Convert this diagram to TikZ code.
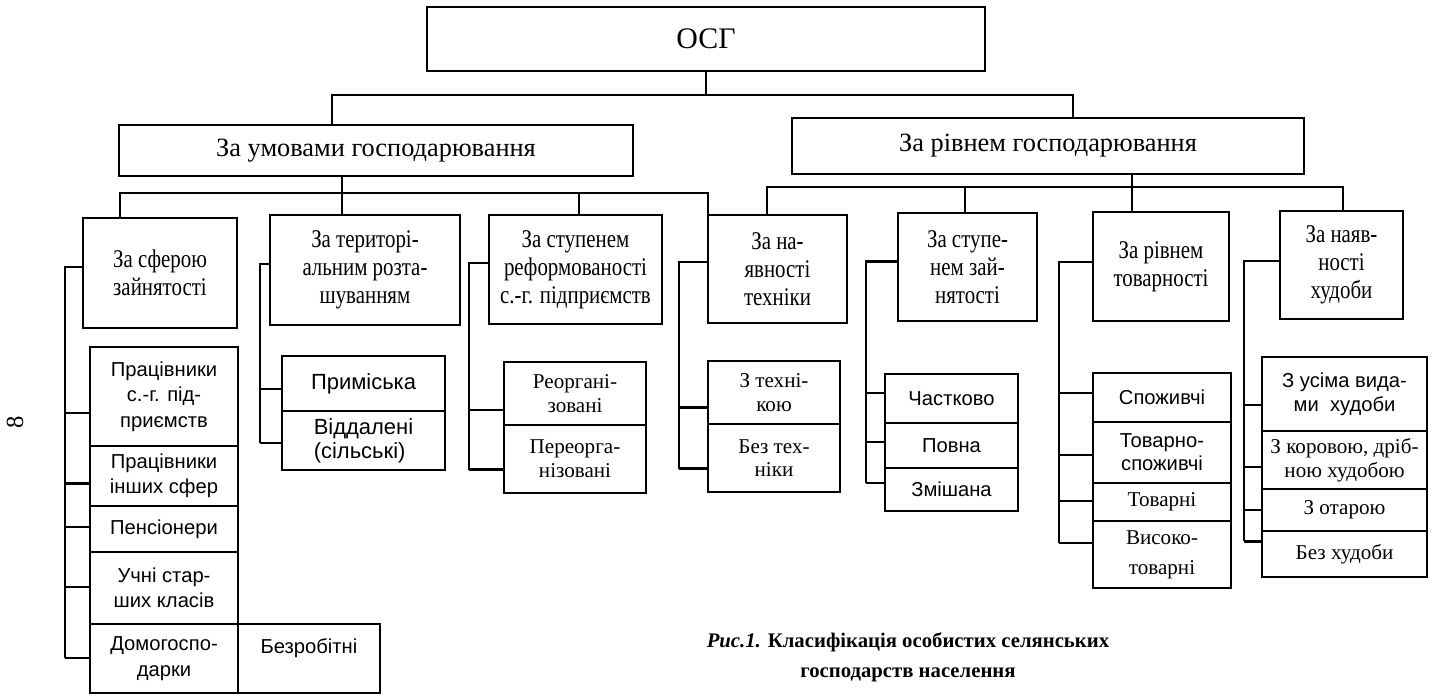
\documentclass[tikz,border=0pt]{standalone}
\usepackage{fontspec}
\setmainfont{Liberation Serif}
\newfontfamily\narrowrm[FakeStretch=0.82]{Liberation Serif}
\newfontfamily\arialcyr{Liberation Sans}
\usetikzlibrary{calc}

\tikzset{
    box/.style={draw, line width=1.2pt, inner sep=1pt, align=center},
    sz/.style 2 args={minimum width=#1*0.02cm, minimum height=#2*0.02cm},
    grp/.style={font=\fontsize{15}{17}\selectfont},
    crit/.style={font=\narrowrm\fontsize{14.5}{16}\selectfont},
    itemrm/.style={font=\fontsize{12}{13.5}\selectfont},
    itemsf/.style={font=\arialcyr\fontsize{11.5}{14.5}\selectfont},
    wire/.style={line width=1.2pt}
}

\begin{document}
\begin{tikzpicture}[x=0.02cm, y=-0.02cm]
    \useasboundingbox (0,0) rectangle (1433,696);

    \node[box, sz={558}{64}, font=\fontsize{17}{20}\selectfont] (osg) at (706,39) {ОСГ};
    \node[box, grp, sz={514}{51}] (umovy) at (376,150.5) {За умовами господарювання};
    \node[box, grp, sz={512}{56}] (rivnem) at (1048,146) {За рівнем господарювання};

    \node[box, crit, sz={154}{110}] (sfera) at (160,273) {За сферою\\зайнятості};
    \node[box, crit, sz={190}{110}] (terr) at (365,270) {За територі-\\альним розта-\\шуванням};
    \node[box, crit, sz={173}{109}] (reform) at (575.5,269.5) {За ступенем\\реформованості\\с.-г. підприємств};
    \node[box, crit, sz={139}{108}] (tekhn) at (777.5,269) {За на-\\явності\\техніки};
    \node[box, crit, sz={139}{108}] (zain) at (967.5,267) {За ступе-\\нем зай-\\нятості};
    \node[box, crit, sz={136}{109}] (tovar) at (1161,266.5) {За рівнем\\товарності};
    \node[box, crit, sz={123}{108}] (khud) at (1341.5,265) {За наяв-\\ності\\худоби};

    % sphere of employment
    \node[box, itemsf, sz={148}{99}] (prac) at (164,396.5) {Працівники\\с.-г. під-\\приємств};
    \node[box, itemsf, sz={148}{60}] (inshi) at (164,476) {Працівники\\інших сфер};
    \node[box, itemsf, sz={148}{46}] (pens) at (164,529) {Пенсіонери};
    \node[box, itemsf, sz={148}{72}] (uchni) at (164,588) {Учні стар-\\ших класів};
    \node[box, itemsf, sz={148}{69}] (domo) at (164,658.5) {Домогоспо-\\дарки};
    \node[box, itemsf, sz={142}{69}] (bezrob) at (309,658.5) {Безробітні\\\mbox{}};

    \node[box, itemsf, font=\arialcyr\fontsize{12.5}{13}\selectfont, sz={163}{55}] (prym) at (363.5,383.5) {Приміська};
    \node[box, itemsf, font=\arialcyr\fontsize{12.5}{13.5}\selectfont, sz={163}{59}, align=left] (vidd) at (363.5,440.5) {Віддалені\\(сільські)};

    \node[box, itemrm, sz={142}{63}] (reorg) at (575,393.5) {Реоргані-\\зовані};
    \node[box, itemrm, sz={142}{68}] (pereorg) at (575,459) {Переорга-\\нізовані};

    \node[box, itemrm, sz={132}{63}] (ztekh) at (774,392.5) {З техні-\\кою};
    \node[box, itemrm, sz={132}{68}] (beztekh) at (774,458) {Без тех-\\ніки};

    \node[box, itemsf, sz={133}{49}] (chast) at (951.5,398.5) {Частково};
    \node[box, itemsf, sz={133}{45}] (povna) at (951.5,445.5) {Повна};
    \node[box, itemsf, sz={133}{43}] (zmish) at (951.5,489.5) {Змішана};

    \node[box, itemsf, sz={138}{49}] (spozh) at (1162,397.5) {Споживчі};
    \node[box, itemsf, font=\arialcyr\fontsize{11.5}{13}\selectfont, sz={138}{61}] (tovsp) at (1162,452.5) {Товарно-\\споживчі};
    \node[box, itemrm, sz={138}{38}] (tovarni) at (1162,502) {Товарні};
    \node[box, itemrm, font=\fontsize{12}{17}\selectfont, sz={138}{67}] (vysoko) at (1162,554.5) {Високо-\\товарні};

    \node[box, itemsf, font=\arialcyr\fontsize{11.5}{13.5}\selectfont, sz={165}{74}] (usi) at (1344.5,394) {З усіма вида-\\ми~~худоби};
    \node[box, itemrm, sz={165}{58}] (korova) at (1344.5,460) {З коровою, дріб-\\ною худобою};
    \node[box, itemrm, sz={165}{42}] (otara) at (1344.5,510) {З отарою};
    \node[box, itemrm, sz={165}{46}] (bezkh) at (1344.5,554) {Без худоби};

    % buses
    \coordinate (t1) at (332,95);
    \coordinate (t2) at (1073,95);
    \draw[wire] (osg.south) -- (osg.south |- t1);
    \draw[wire] (umovy.north -| t1) -- (t1) -- (t2) -- (rivnem.north -| t2);

    \coordinate (l1) at (120,193);
    \coordinate (l2) at (342,193);
    \coordinate (l3) at (579,193);
    \coordinate (l4) at (708,193);
    \draw[wire] (umovy.south -| l2) -- (terr.north -| l2);
    \draw[wire] (sfera.north -| l1) -- (l1) -- (l4) -- (tekhn.north -| l4);
    \draw[wire] (l3) -- (reform.north -| l3);

    \coordinate (r1) at (767,187);
    \coordinate (r2) at (965,187);
    \coordinate (r3) at (1132,187);
    \coordinate (r4) at (1343,187);
    \draw[wire] (rivnem.south -| r3) -- (tovar.north -| r3);
    \draw[wire] (tekhn.north -| r1) -- (r1) -- (r4) -- (khud.north -| r4);
    \draw[wire] (r2) -- (zain.north -| r2);

    % brackets
    \coordinate (v1) at (65,0);
    \foreach \n/\f in {prac/.66, inshi/.62, pens/.46, uchni/.49, domo/.49}{
        \coordinate (p) at ($(\n.north west)!\f!(\n.south west)$);
        \draw[wire] (p) -- (p -| v1);
    }
    \draw[wire] ($(sfera.north west)!.45!(sfera.south west)$) -| (p -| v1);

    \coordinate (v2) at (260,0);
    \foreach \n/\f in {prym/.60, vidd/.54}{
        \coordinate (p) at ($(\n.north west)!\f!(\n.south west)$);
        \draw[wire] (p) -- (p -| v2);
    }
    \draw[wire] ($(terr.north west)!.45!(terr.south west)$) -| (p -| v2);

    \coordinate (v3) at (469,0);
    \foreach \n/\f in {reorg/.75, pereorg/.65}{
        \coordinate (p) at ($(\n.north west)!\f!(\n.south west)$);
        \draw[wire] (p) -- (p -| v3);
    }
    \draw[wire] ($(reform.north west)!.44!(reform.south west)$) -| (p -| v3);

    \coordinate (v4) at (679,0);
    \foreach \n/\f in {ztekh/.73, beztekh/.65}{
        \coordinate (p) at ($(\n.north west)!\f!(\n.south west)$);
        \draw[wire] (p) -- (p -| v4);
    }
    \draw[wire] ($(tekhn.north west)!.44!(tekhn.south west)$) -| (p -| v4);

    \coordinate (v5) at (866,0);
    \foreach \n/\f in {chast/.39, povna/.42, zmish/.35}{
        \coordinate (p) at ($(\n.north west)!\f!(\n.south west)$);
        \draw[wire] (p) -- (p -| v5);
    }
    \draw[wire] ($(zain.north west)!.45!(zain.south west)$) -| (p -| v5);

    \coordinate (v6) at (1059,0);
    \foreach \n/\f in {spozh/.41, tovsp/.54, tovarni/.47, vysoko/.33}{
        \coordinate (p) at ($(\n.north west)!\f!(\n.south west)$);
        \draw[wire] (p) -- (p -| v6);
    }
    \draw[wire] ($(tovar.north west)!.46!(tovar.south west)$) -| (p -| v6);

    \coordinate (v7) at (1244,0);
    \foreach \n/\f in {usi/.64, korova/.62, otara/.50, bezkh/.24}{
        \coordinate (p) at ($(\n.north west)!\f!(\n.south west)$);
        \draw[wire] (p) -- (p -| v7);
    }
    \draw[wire] ($(khud.north west)!.46!(khud.south west)$) -| (p -| v7);

    \node[font=\bfseries\fontsize{11.8}{17}\selectfont, align=center] (cap) at (908,657) {\textit{Рис.1.} Класифікація особистих селянських\\господарств населення};
    \node[rotate=90, font=\fontsize{14}{14}\selectfont] (pnum) at (15,422) {8};
\end{tikzpicture}
\end{document}
